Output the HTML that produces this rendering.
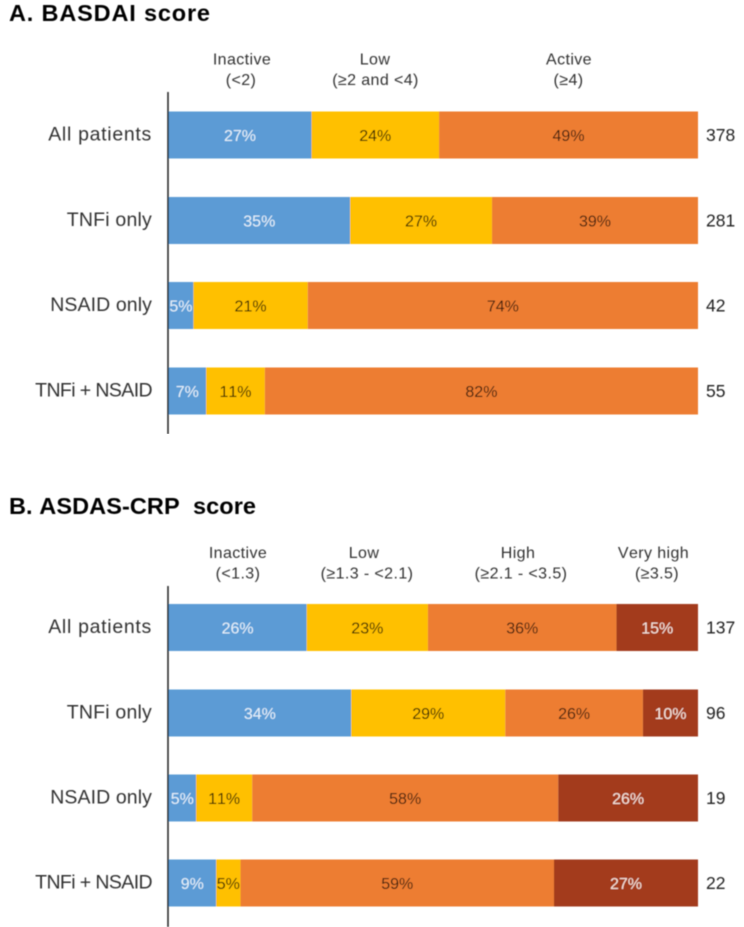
<!DOCTYPE html>
<html>
<head>
<meta charset="utf-8">
<title>BASDAI and ASDAS-CRP scores</title>
<style>
html,body{margin:0;padding:0;background:#fff;}
#chart{display:block;width:744px;height:927px;}
text{font-family:"Liberation Sans",sans-serif;font-kerning:none;white-space:pre;}
</style>
</head>
<body>
<svg id="chart" xmlns="http://www.w3.org/2000/svg" width="744" height="927" viewBox="0 0 744 927">
<defs><filter id="soft" x="0" y="0" width="100%" height="100%"><feGaussianBlur stdDeviation="0.4"/></filter></defs>
</svg>
<script>
var rowLabels = ["All patients", "TNFi only", "NSAID only", "TNFi + NSAID"];

var basdaiValues = [
  [27.0, 24.1, 48.9],
  [34.3, 26.8, 38.9],
  [4.7, 21.6, 73.7],
  [7.1, 11.1, 81.8]
];
var basdaiPrinted = [
  ["27%", "24%", "49%"],
  ["35%", "27%", "39%"],
  ["5%", "21%", "74%"],
  ["7%", "11%", "82%"]
];
var basdaiCounts = ["378", "281", "42", "55"];
var basdaiCategories = [["Inactive", "(<2)"], ["Low", "(≥2 and <4)"], ["Active", "(≥4)"]];

var asdasValues = [
  [26.1, 22.9, 35.6, 15.4],
  [34.5, 29.1, 26.0, 10.4],
  [5.2, 10.6, 57.8, 26.4],
  [9.0, 4.6, 59.2, 27.2]
];
var asdasPrinted = [
  ["26%", "23%", "36%", "15%"],
  ["34%", "29%", "26%", "10%"],
  ["5%", "11%", "58%", "26%"],
  ["9%", "5%", "59%", "27%"]
];
var asdasCounts = ["137", "96", "19", "22"];
var asdasCategories = [["Inactive", "(<1.3)"], ["Low", "(≥1.3 - <2.1)"], ["High", "(≥2.1 - <3.5)"], ["Very high", "(≥3.5)"]];

var NS = "http://www.w3.org/2000/svg";
var svg = document.getElementById("chart");
var X0 = 168.5, X1 = 698;
var BAR_H = 47;
var tracking = {"All patients": 0.7, "TNFi only": 0.2, "NSAID only": 0.1, "TNFi + NSAID": -0.6};

function xScale(pct) { return X0 + (X1 - X0) * pct / 100; }

function make(tag, attrs, parent) {
  var el = document.createElementNS(NS, tag);
  for (var k in attrs) el.setAttribute(k, attrs[k]);
  (parent || svg).appendChild(el);
  return el;
}
function label(str, x, y, size, fill, anchor, weight, parent, spacing) {
  var t = make("text", {x: x, y: y, "font-size": size, fill: fill, "text-anchor": anchor || "middle"}, parent);
  if (weight) t.setAttribute("font-weight", weight);
  if (spacing) t.setAttribute("letter-spacing", spacing);
  t.textContent = str;
  return t;
}

var palette = {
  3: ["#5b9bd5", "#ffc000", "#ed7d31"],
  4: ["#5b9bd5", "#ffc000", "#ed7d31", "#a33a1b"]
};
var textPalette = {
  3: ["#e6f1fa", "#352805", "#3d1f10"],
  4: ["#e6f1fa", "#352805", "#3d1f10", "#f6e4dc"]
};

function drawPanel(key, title, titleWidth, titleY, axisTop, axisBottom, catY, nameCenters, rangeCenters, rowTops, categories, values, printed, counts) {
  var g = make("g", {filter: "url(#soft)"});
  
  

  var tt = label(title, 9, titleY, 23.5, "#000", "start", "bold", g);
  tt.setAttribute("textLength", titleWidth);
  tt.setAttribute("lengthAdjust", "spacing");
  
  

  categories.forEach(function (c, i) {
    var a = label(c[0], nameCenters[i], catY, 16, "#333", "middle", null, g, "0.4");
    
    
    var b = label(c[1], rangeCenters[i], catY + 20.5, 16, "#333", "middle", null, g, "0.4");
    
    
  });

  values.forEach(function (row, r) {
    var top = rowTops[r];
    var mid = top + BAR_H / 2;
    var n = label(rowLabels[r], 152, mid + 5.5, 19.5, "#333", "end", null, g, tracking[rowLabels[r]]);
    
    

    var cum = 0;
    row.forEach(function (v, s) {
      var x = xScale(cum), w = xScale(cum + v) - x;
      var rect = make("rect", {x: x, y: top, width: w, height: BAR_H, fill: palette[row.length][s]}, g);
      
      
      cum += v;
    });
    cum = 0;
    row.forEach(function (v, s) {
      var cx = (xScale(cum) + xScale(cum + v)) / 2;
      var tv = label(printed[r][s], cx, mid + 6, 16, textPalette[row.length][s], "middle", null, g);
      
      
      cum += v;
    });
    var ct = label(counts[r], 706, mid + 6, 17.5, "#222", "start", null, g);
    
    
  });

  var axis = make("line", {x1: 168, x2: 168, y1: axisTop, y2: axisBottom, stroke: "#222", "stroke-width": 1.5}, g);
  
  
}

drawPanel("basdai", "A. BASDAI score", 201, 21, 92, 434, 64.5, [242, 375, 569], [241, 375.5, 568.5],
  [111.5, 197, 282, 367.5], basdaiCategories, basdaiValues, basdaiPrinted, basdaiCounts);

drawPanel("asdas", "B. ASDAS-CRP  score", 247, 514, 586, 927, 558, [238, 364, 518, 653.5], [238, 367, 521, 657],
  [604, 689.5, 774.5, 859.5], asdasCategories, asdasValues, asdasPrinted, asdasCounts);
</script>
</body>
</html>
